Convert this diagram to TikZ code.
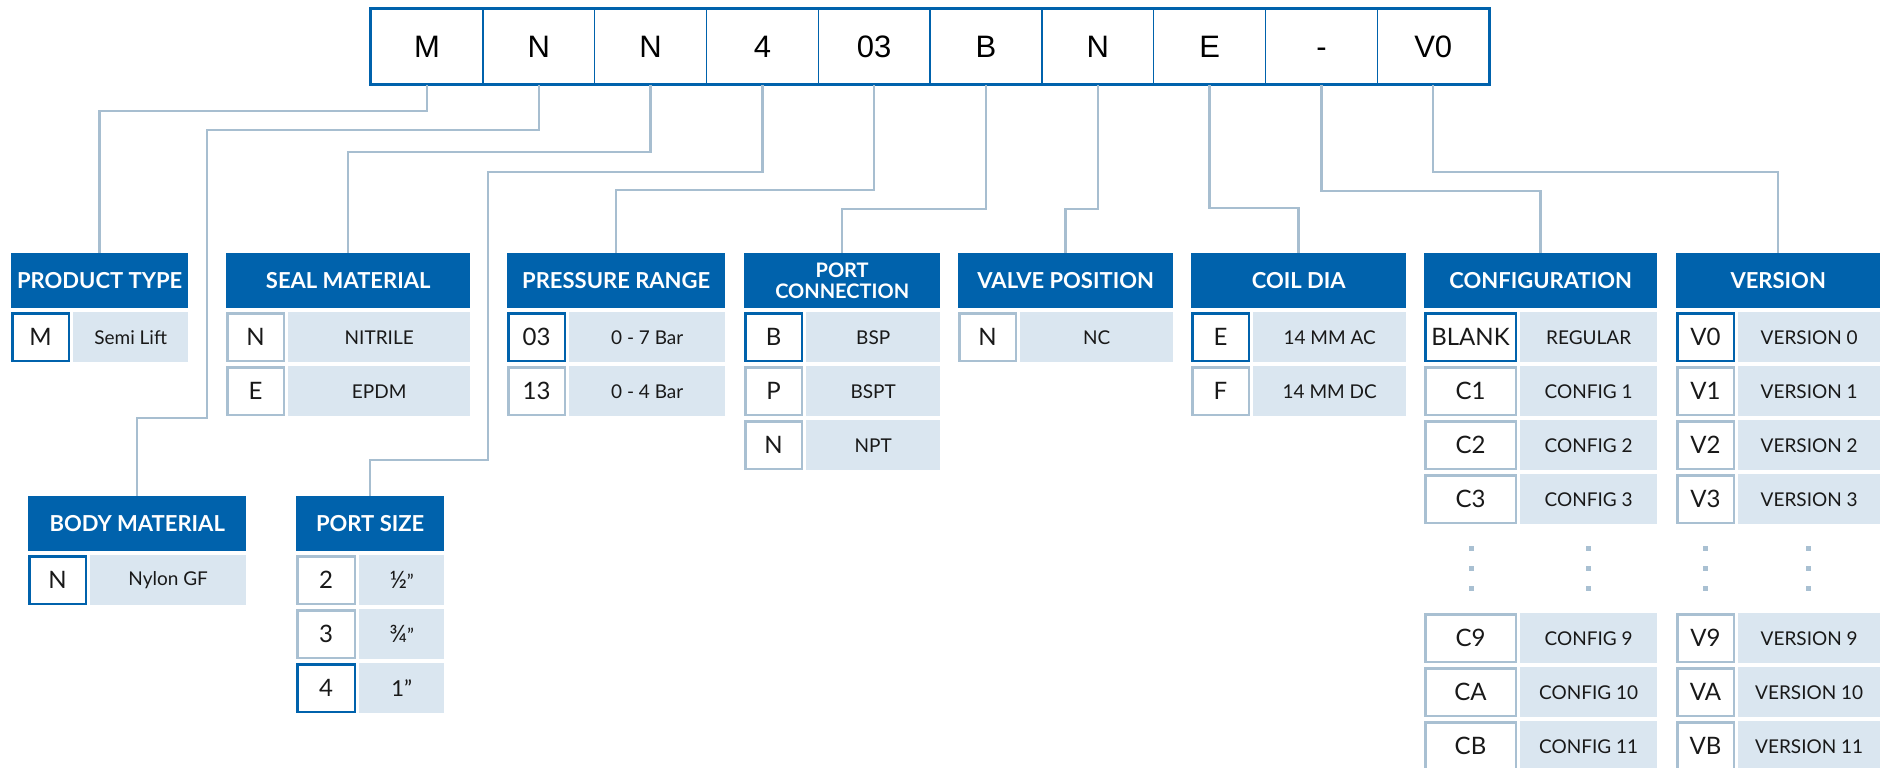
\documentclass[tikz,border=0pt]{standalone}
\usepackage{fontspec}
\setmainfont{Lato}
\newfontfamily\topfont{Liberation Sans}
\definecolor{codeblue}{HTML}{0062AC}
\definecolor{codegray}{HTML}{A9C0D2}
\definecolor{descfill}{HTML}{DAE6F0}
\definecolor{linkgray}{HTML}{A7BED0}
\newcommand{\frsize}{\fontsize{24}{24}\selectfont}

% #1 name, #2 left x, #3 top y, #4 width, #5 code width, #6 rows
\newcommand{\optrows}[6]{%
  \foreach \bc/\cd/\ds [count=\r from 0] in {#6}{
    \node[code=\bc, minimum width=#5-2.5] (#1-\r) at (#2, {#3+54*\r}) {\cd};
    \node[desc, minimum width=#4-#5-3] (#1-d\r) at ({#2+#5+3}, {#3+54*\r}) {\ds};
  }%
}

\begin{document}
\begin{tikzpicture}[x=1pt,y=-1pt,
  link/.style={draw=linkgray,line width=2.5},
  topbox/.style={draw=codeblue,line width=1.5,minimum width=111.8,minimum height=75,inner sep=0,
    text height=22,text depth=0,font=\topfont\fontsize{31}{31}\selectfont},
  head/.style={fill=codeblue,text=white,anchor=north west,minimum height=55,inner sep=0,
    font=\fontsize{22}{24}\selectfont\bfseries},
  code/.style={draw=#1,fill=white,line width=2.5,anchor=north west,minimum height=47.5,inner sep=0,
    text height=17,text depth=0,text=black!90,font=\fontsize{24}{24}\selectfont},
  desc/.style={fill=descfill,anchor=north west,minimum height=50,inner sep=0,
    text=black!90,font=\fontsize{19}{19}\selectfont}]
  \useasboundingbox (0,0) rectangle (1887,768);
  \clip (0,0) rectangle (1887,768);

  \foreach \lbl [count=\i] in {M,N,N,4,03,B,N,E,-,V0}{
    \node[topbox] (c\i) at ({427+111.8*(\i-1)},46.5) {\lbl};
  }
  \draw[codeblue,line width=3] (c1.north west) rectangle (c10.south east);

  \node[head,minimum width=177] (hprod) at (11,253) {PRODUCT TYPE};
  \node[head,minimum width=244] (hseal) at (226,253) {SEAL MATERIAL};
  \node[head,minimum width=218] (hpres) at (507,253) {PRESSURE RANGE};
  \node[head,minimum width=196,align=center,font=\fontsize{20}{21}\selectfont\bfseries]
    (hconn) at (744,253) {PORT\\CONNECTION};
  \node[head,minimum width=215] (hvalve) at (958,253) {VALVE POSITION};
  \node[head,minimum width=215] (hcoil) at (1191,253) {COIL DIA};
  \node[head,minimum width=233] (hcfg) at (1424,253) {CONFIGURATION};
  \node[head,minimum width=204] (hver) at (1676,253) {VERSION};
  \node[head,minimum width=218] (hbody) at (28,496) {BODY MATERIAL};
  \node[head,minimum width=148] (hsize) at (296,496) {PORT SIZE};

  \foreach \i/\h/\d in {1/hprod/26,3/hseal/67,5/hpres/105,6/hconn/124,7/hvalve/124,
                        8/hcoil/123,9/hcfg/106,10/hver/87}{
    \draw[link] (c\i.south) -- ++(0,\d) -| (\h.north);
  }
  \draw[link] (c2.south) -- ++(0,45) -| (207,418) -| (hbody.north);
  \draw[link] (c4.south) -- ++(0,87) -| (488,460) -| (hsize.north);

  \optrows{prod}{11}{312}{177}{59}{codeblue/M/Semi Lift}
  \optrows{seal}{226}{312}{244}{59}{codegray/N/NITRILE,codegray/E/EPDM}
  \optrows{body}{28}{555}{218}{59}{codeblue/N/Nylon GF}
  \optrows{size}{296}{555}{148}{60}{codegray/2/{\frsize ½}”,codegray/3/{\frsize ¾}”,
    codeblue/4/{\fontsize{22}{22}\selectfont 1”}}
  \optrows{pres}{507}{312}{218}{59}{codeblue/03/0 - 7 Bar,codegray/13/0 - 4 Bar}
  \optrows{conn}{744}{312}{196}{59}{codeblue/B/BSP,codegray/P/BSPT,codegray/N/NPT}
  \optrows{valve}{958}{312}{215}{59}{codegray/N/NC}
  \optrows{coil}{1191}{312}{215}{59}{codeblue/E/14 MM AC,codegray/F/14 MM DC}
  \optrows{cfg}{1424}{312}{233}{93}{codeblue/BLANK/REGULAR,codegray/C1/CONFIG 1,
    codegray/C2/CONFIG 2,codegray/C3/CONFIG 3}
  \optrows{cfgb}{1424}{613}{233}{93}{codegray/C9/CONFIG 9,codegray/CA/CONFIG 10,
    codegray/CB/CONFIG 11}
  \optrows{ver}{1676}{312}{204}{59}{codeblue/V0/VERSION 0,codegray/V1/VERSION 1,
    codegray/V2/VERSION 2,codegray/V3/VERSION 3}
  \optrows{verb}{1676}{613}{204}{59}{codegray/V9/VERSION 9,codegray/VA/VERSION 10,
    codegray/VB/VERSION 11}

  \foreach \x in {1471,1588,1705,1808}{
    \foreach \y in {548,568,588}{
      \fill[codegray] (\x-2.5,\y-2.5) rectangle ++(5,5);
    }
  }
\end{tikzpicture}
\end{document}
